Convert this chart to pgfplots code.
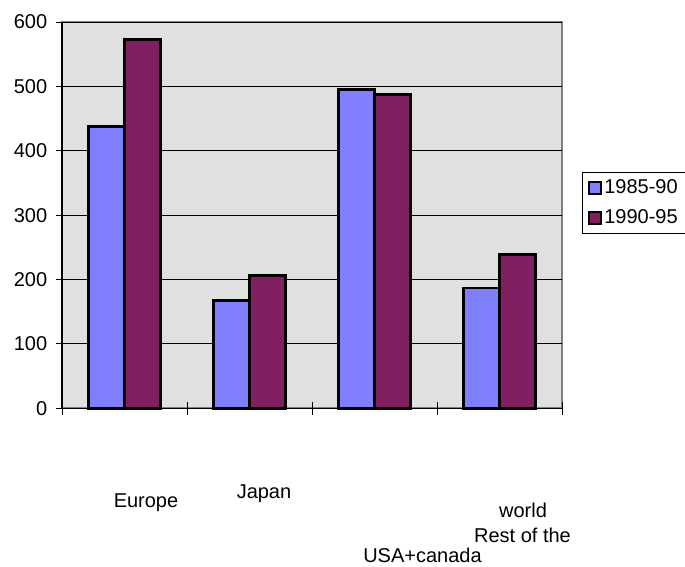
\documentclass[border=0pt]{standalone}
\usepackage{pgfplots}
\pgfplotsset{compat=1.18}
\usepackage{fontspec}
\setmainfont{Liberation Sans}

\definecolor{barblue}{RGB}{128,128,255}
\definecolor{barplum}{RGB}{128,32,96}
\definecolor{plotbg}{RGB}{224,224,224}

\begin{document}
\fontsize{20}{23}\selectfont
\begin{tikzpicture}
\useasboundingbox (0,0) rectangle (685pt,567pt);
\begin{axis}[
    at={(62pt,158.7pt)}, anchor=south west,
    scale only axis,
    width=500pt, height=386.3pt,
    xmin=0, xmax=4,
    ymin=0, ymax=600,
    ytick={0,100,...,600},
    xtick={0,1,2,3,4},
    xticklabels={},
    axis x line*=bottom,
    axis y line*=left,
    axis line style={black, line width=1.2pt},
    axis background/.style={fill=plotbg, draw=gray, line width=1.8pt},
    ymajorgrids,
    grid style={black, line width=0.9pt},
    tick align=outside,
    major tick length=13pt,
    xtick style={black, line width=0.9pt, yshift=6.5pt},
    ytick style={black, line width=0.9pt, xshift=7pt},
    /pgf/number format/assume math mode=true,
    tick label style={font=\fontsize{20}{23}\selectfont},
    yticklabel style={xshift=5pt},
    clip=false,
    ybar=0pt,
    bar width=36pt,
    legend style={at={(rel axis cs:1.04,0.612)}, anchor=north west,
        draw=black, line width=0.7pt, fill=white,
        font=\fontsize{20}{23}\selectfont,
        inner xsep=6pt, inner ysep=5pt,
        /tikz/every even column/.append style={column sep=2pt},
        row sep=9pt},
    legend image code/.code={\draw[#1, draw=black, line width=2pt] (0pt,-6pt) rectangle (12pt,6pt);},
]
\addplot[fill=barblue, draw=black, line width=2.8pt, bar shift=-18pt]
    coordinates {(0.5,438) (1.5,168) (2.5,495) (3.5,187)};
\addplot[fill=barplum, draw=black, line width=2.8pt, bar shift=18pt]
    coordinates {(0.5,573) (1.5,206) (2.5,487) (3.5,239)};
\legend{1985-90,1990-95}

\node at (axis cs:0.672,-146) {Europe};
\node at (axis cs:1.616,-132) {Japan};
\node at (axis cs:2.884,-228) {USA+canada};
\node at (axis cs:3.688,-158) {world};
\node at (axis cs:3.684,-198) {Rest of the};
\end{axis}
\end{tikzpicture}
\end{document}
